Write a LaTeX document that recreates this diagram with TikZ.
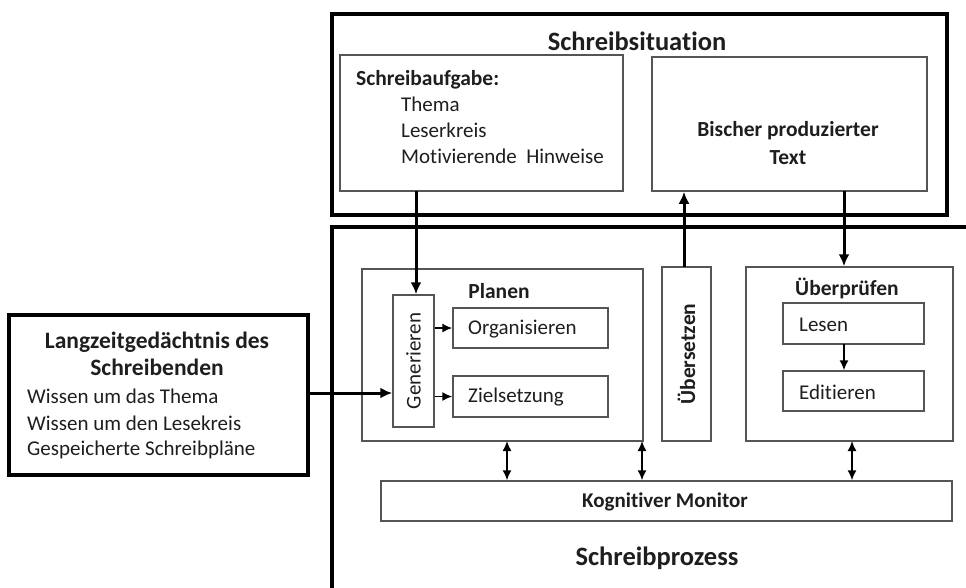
\documentclass[tikz,border=0pt]{standalone}
\usepackage{fontspec}
\setmainfont{Carlito}[Ligatures=NoCommon]
\usetikzlibrary{arrows.meta}
\definecolor{txt}{HTML}{1E1E1E}
\definecolor{frame}{HTML}{555555}
\tikzset{
  x=1pt,y=-1pt,
  inbox/.style={draw=frame,line width=1.5pt,inner sep=0pt},
  outbox/.style={draw=black,line width=3.4pt,inner sep=0pt},
  lbl/.style={text=txt,inner sep=0pt,font=\fontsize{21}{24}\selectfont},
  blbl/.style={lbl,font=\fontsize{21.5}{24}\selectfont\bfseries},
  ttl/.style={lbl,font=\fontsize{26.5}{30}\selectfont\bfseries},
  thickarrow/.style={line width=3pt,-{Latex[length=12pt,width=11pt]}},
  thinarrow/.style={line width=1.5pt,-{Latex[length=10pt,width=9pt]}},
  dblarrow/.style={line width=1.5pt,{Latex[length=10pt,width=9pt]}-{Latex[length=10pt,width=9pt]}},
}
\begin{document}
\begin{tikzpicture}
\useasboundingbox (0,0) rectangle (966,587);
% Schreibsituation
\node[outbox,minimum width=615,minimum height=201] (sit) at (639.5,114.5) {};
\node[ttl] (sittitle) at (637,41) {Schreibsituation};
\node[inbox,minimum width=283,minimum height=136] (aufg) at (481.5,123) {};
\node[blbl,anchor=west] (aufgt) at (356,80) {Schreibaufgabe:};
\node[lbl,anchor=west] (a1) at (401,104) {Thema};
\node[lbl,anchor=west] (a2) at (401,130) {Leserkreis};
\node[lbl,anchor=west] (a3) at (401,156) {Motivierende\ \ Hinweise};
\node[inbox,minimum width=275,minimum height=134] (text) at (789.5,124) {};
\node[blbl,align=center,font=\fontsize{21.5}{28}\selectfont\bfseries] (textt) at (788,143) {Bischer produzierter\\Text};
% Schreibprozess frame
\coordinate (p0) at (332,590);
\coordinate (p1) at (332,227);
\coordinate (p2) at (970,227);
\draw[line width=3.4pt] (p0) -- (p1) -- (p2);
\node[ttl] (prozt) at (657,558) {Schreibprozess};
% Planen
\node[inbox,minimum width=281,minimum height=172] (plan) at (502.5,355) {};
\node[blbl] (plant) at (499,291) {Planen};
\node[inbox,minimum width=41,minimum height=132] (gen) at (413.5,361) {};
\node[lbl,rotate=90] (gent) at (413.5,361) {Generieren};
\node[inbox,minimum width=155,minimum height=40] (org) at (530.5,328) {};
\node[lbl,anchor=west] (orgt) at (468,329) {Organisieren};
\node[inbox,minimum width=155,minimum height=41] (ziel) at (530.5,396.5) {};
\node[lbl,anchor=west] (zielt) at (468,397) {Zielsetzung};
% Uebersetzen
\node[inbox,minimum width=49,minimum height=174] (ueb) at (686.5,354) {};
\node[blbl,rotate=90] (uebt) at (686.5,354) {Übersetzen};
% Ueberpruefen
\node[inbox,minimum width=207,minimum height=174] (pruef) at (849.5,354) {};
\node[blbl] (prueft) at (847,288) {Überprüfen};
\node[inbox,minimum width=141,minimum height=41] (lesen) at (853.5,323.5) {};
\node[lbl,anchor=west] (lesent) at (799,325) {Lesen};
\node[inbox,minimum width=141,minimum height=40] (edit) at (853.5,391) {};
\node[lbl,anchor=west] (editt) at (799,392) {Editieren};
% Monitor
\node[inbox,minimum width=571,minimum height=40] (mon) at (666.5,501) {};
\node[blbl,font=\fontsize{21}{24}\selectfont\bfseries] (mont) at (665,502) {Kognitiver Monitor};
% Langzeitgedaechtnis
\node[outbox,minimum width=299,minimum height=160] (ltm) at (158.5,395) {};
\node[lbl,align=center,font=\fontsize{23.5}{27}\selectfont\bfseries] (ltmt) at (157,354) {Langzeitgedächtnis des\\Schreibenden};
\node[lbl,anchor=west] (l1) at (27,396) {Wissen um das Thema};
\node[lbl,anchor=west] (l2) at (27,423) {Wissen um den Lesekreis};
\node[lbl,anchor=west] (l3) at (27,450) {Gespeicherte Schreibpläne};
% Connectors
\coordinate (aufgx) at (416,191);
\draw[thickarrow] (aufgx) -- (aufgx |- gen.north);
\coordinate (gy) at (0,393);
\draw[thickarrow] (ltm.east |- gy) -- (gen.west |- gy);
\draw[thinarrow] (gen.east |- org) -- (org.west);
\draw[thinarrow] (gen.east |- ziel) -- (ziel.west);
\coordinate (uebx) at (684,267);
\draw[thickarrow] (uebx) -- (uebx |- text.south);
\coordinate (pruefx) at (844,191);
\draw[thickarrow] (pruefx) -- (pruefx |- pruef.north);
\coordinate (lesx) at (844,344);
\draw[thinarrow] (lesx) -- (lesx |- edit.north);
\coordinate (d1) at (507,441);
\coordinate (d2) at (642,441);
\coordinate (d3) at (852,441);
\draw[dblarrow] (d1) -- (d1 |- mon.north);
\draw[dblarrow] (d2) -- (d2 |- mon.north);
\draw[dblarrow] (d3) -- (d3 |- mon.north);
\end{tikzpicture}
\end{document}
